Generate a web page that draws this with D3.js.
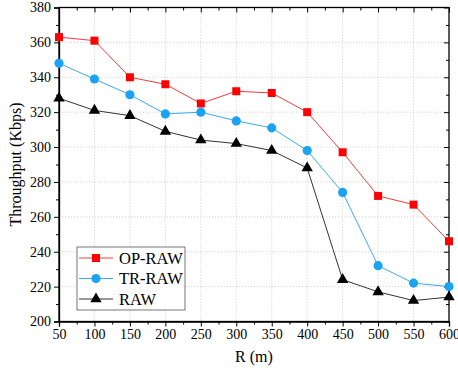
<!DOCTYPE html>
<html>
<head>
<meta charset="utf-8">
<script src="https://cdn.jsdelivr.net/npm/d3@7"></script>
<style>
  html, body { margin: 0; padding: 0; background: #fff; }
  svg { display: block; }
  svg text { font-family: "Liberation Serif", "DejaVu Serif", serif !important; fill: #000; }
</style>
</head>
<body>
<svg id="chart" width="458" height="371"></svg>
<script>
// Throughput versus range for the three schemes
const ranges = [50, 100, 150, 200, 250, 300, 350, 400, 450, 500, 550, 600];
const opRaw = [363, 361, 340, 336, 325, 332, 331, 320, 297, 272, 267, 246];
const trRaw = [348, 339, 330, 319, 320, 315, 311, 298, 274, 232, 222, 220];
const raw   = [328, 321, 318, 309, 304, 302, 298, 288, 224, 217, 212, 214];
const seriesNames = ["OP-RAW", "TR-RAW", "RAW"];
const xTicks = [50, 100, 150, 200, 250, 300, 350, 400, 450, 500, 550, 600];
const yTicks = [200, 220, 240, 260, 280, 300, 320, 340, 360, 380];

const series = [
  { name: seriesNames[0], values: opRaw, color: "#ff0000", line: "#f23a3a", shape: d3.symbolSquare, size: 64 },
  { name: seriesNames[1], values: trRaw, color: "#1aa3f2", line: "#3aaaf0", shape: d3.symbolCircle, size: 66 },
  { name: seriesNames[2], values: raw,   color: "#000000", line: "#333333", shape: d3.symbolTriangle, size: 56 }
];

const FONT = "'Liberation Serif', 'DejaVu Serif', serif";
const svg = d3.select("#chart");
const L = 59, R = 449, T = 7.5, B = 321.5;

const x = d3.scaleLinear().domain([50, 600]).range([L, R]);
const y = d3.scaleLinear().domain([200, 380]).range([B, T]);

// dotted grid
const grid = svg.append("g");
grid.selectAll(".gx").data(xTicks.slice(1, -1)).join("line")
  .attr("x1", d => x(d)).attr("x2", d => x(d)).attr("y1", T).attr("y2", B)
  .attr("stroke", "#c8c8c8").attr("stroke-width", 0.8).attr("stroke-dasharray", "1.2,1.8");
grid.selectAll(".gy").data(yTicks.slice(1, -1)).join("line")
  .attr("y1", d => y(d)).attr("y2", d => y(d)).attr("x1", L).attr("x2", R)
  .attr("stroke", "#c8c8c8").attr("stroke-width", 0.8).attr("stroke-dasharray", "1.2,1.8");

const xMinor = d3.range(75, 600, 50);
const yMinor = d3.range(210, 380, 20);

// bottom axis
svg.append("g").attr("transform", `translate(0,${B})`)
  .call(d3.axisBottom(x).tickValues(xTicks).tickFormat(d3.format("d")).tickSize(5).tickPadding(3));
svg.append("g").attr("transform", `translate(0,${B})`)
  .call(d3.axisBottom(x).tickValues(xMinor).tickFormat("").tickSize(3))
  .select(".domain").remove();
// left axis
svg.append("g").attr("transform", `translate(${L},0)`)
  .call(d3.axisLeft(y).tickValues(yTicks).tickFormat(d3.format("d")).tickSize(5).tickPadding(3));
svg.append("g").attr("transform", `translate(${L},0)`)
  .call(d3.axisLeft(y).tickValues(yMinor).tickFormat("").tickSize(3))
  .select(".domain").remove();
// top axis, inward ticks
svg.append("g").attr("transform", `translate(0,${T})`)
  .call(d3.axisBottom(x).tickValues(xTicks).tickFormat("").tickSize(5))
  .call(g => g.select(".domain").remove());
svg.append("g").attr("transform", `translate(0,${T})`)
  .call(d3.axisBottom(x).tickValues(xMinor).tickFormat("").tickSize(3))
  .call(g => g.select(".domain").remove());
// right axis, inward ticks
svg.append("g").attr("transform", `translate(${R},0)`)
  .call(d3.axisLeft(y).tickValues(yTicks).tickFormat("").tickSize(5))
  .call(g => g.select(".domain").remove());
svg.append("g").attr("transform", `translate(${R},0)`)
  .call(d3.axisLeft(y).tickValues(yMinor).tickFormat("").tickSize(3))
  .call(g => g.select(".domain").remove());

// frame
svg.append("rect").attr("x", L).attr("y", T).attr("width", R - L).attr("height", B - T)
  .attr("fill", "none").attr("stroke", "#000").attr("stroke-width", 1.3);

svg.selectAll(".tick line").attr("stroke", "#000").attr("stroke-width", 1);
svg.selectAll(".domain").attr("stroke", "#000").attr("stroke-width", 1.3);
svg.selectAll("g").attr("font-family", FONT);
svg.selectAll(".tick text").style("font-family", FONT).style("font-size", "14px").attr("fill", "#000");

// axis titles
svg.append("text").attr("x", (L + R) / 2).attr("y", 362).attr("text-anchor", "middle")
  .style("font-family", FONT).style("font-size", "16px").text("R (m)");
svg.append("text").attr("transform", `translate(21,${(T + B) / 2}) rotate(-90)`)
  .attr("text-anchor", "middle").style("font-family", FONT).style("font-size", "16px")
  .text("Throughput (Kbps)");

// lines and markers
const lineGen = d3.line().x((d, i) => x(ranges[i])).y(d => y(d));
const plot = svg.append("g");
series.forEach(s => {
  plot.append("path").datum(s.values).attr("d", lineGen)
    .attr("fill", "none").attr("stroke", s.line).attr("stroke-width", 1);
});
series.forEach(s => {
  plot.selectAll(null).data(s.values).join("path")
    .attr("transform", (d, i) => `translate(${x(ranges[i])},${y(d)})`)
    .attr("d", d3.symbol().type(s.shape).size(s.size))
    .attr("fill", s.color);
});

// legend
const lg = svg.append("g");
lg.append("rect").attr("x", 77).attr("y", 247).attr("width", 108).attr("height", 63)
  .attr("fill", "#fff").attr("stroke", "#555").attr("stroke-width", 0.8);
series.forEach((s, i) => {
  const cy = 258 + i * 20.5;
  lg.append("line").attr("x1", 79).attr("x2", 113).attr("y1", cy).attr("y2", cy)
    .attr("stroke", s.line).attr("stroke-width", 1);
  lg.append("path").attr("transform", `translate(96,${cy})`)
    .attr("d", d3.symbol().type(s.shape).size(s.size)).attr("fill", s.color);
  lg.append("text").attr("x", 119).attr("y", cy + 5.5)
    .style("font-family", FONT).style("font-size", "16.5px").text(s.name);
});
</script>
</body>
</html>
